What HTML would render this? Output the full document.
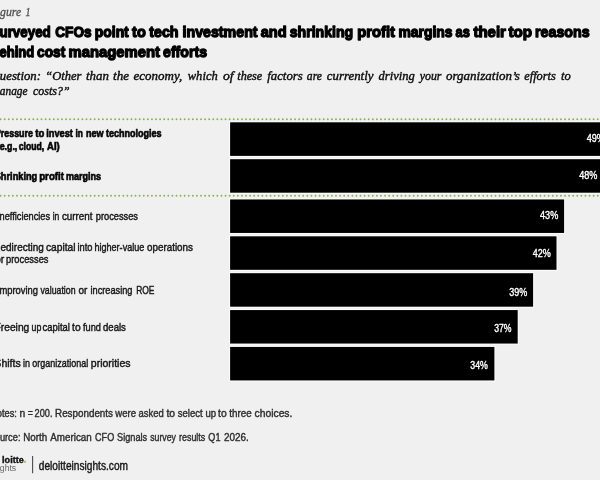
<!DOCTYPE html>
<html lang="en">
<head>
<meta charset="utf-8">
<title>Figure 1</title>
<style>
html,body{margin:0;padding:0;background:#f0f0f0;overflow:hidden}
svg{display:block;will-change:transform}
</style>
</head>
<body>
<svg width="600" height="480" viewBox="0 0 600 480">
<rect x="0" y="0" width="600" height="480" fill="#f0f0f0"/>
<defs><mask id="mk" maskUnits="userSpaceOnUse" x="0" y="0" width="600" height="480"><rect width="600" height="480" fill="#fff"/></mask><filter id="soft" filterUnits="userSpaceOnUse" x="-10" y="-10" width="620" height="500" color-interpolation-filters="sRGB"><feGaussianBlur stdDeviation="0.45"/></filter></defs>
<g mask="url(#mk)" filter="url(#soft)">
<text y="15.5" font-family='"Liberation Serif", serif' font-size="12.2" font-weight="normal" font-style="italic" fill="#505050" stroke="#505050" stroke-width="0.3" stroke-linejoin="round"><tspan x="-10.42" textLength="31.62" lengthAdjust="spacingAndGlyphs">Figure</tspan> <tspan x="25.39" textLength="5.02" lengthAdjust="spacingAndGlyphs">1</tspan></text>
<text y="36.8" font-family='"Liberation Sans", sans-serif' font-size="15.0" font-weight="bold" font-style="normal" fill="#000" stroke="#000" stroke-width="1.3" stroke-linejoin="round"><tspan x="-9.45" textLength="60.20" lengthAdjust="spacingAndGlyphs">Surveyed</tspan> <tspan x="55.25" textLength="36.30" lengthAdjust="spacingAndGlyphs">CFOs</tspan> <tspan x="94.85" textLength="33.90" lengthAdjust="spacingAndGlyphs">point</tspan> <tspan x="132.05" textLength="13.70" lengthAdjust="spacingAndGlyphs">to</tspan> <tspan x="149.25" textLength="29.30" lengthAdjust="spacingAndGlyphs">tech</tspan> <tspan x="182.55" textLength="75.00" lengthAdjust="spacingAndGlyphs">investment</tspan> <tspan x="260.65" textLength="25.90" lengthAdjust="spacingAndGlyphs">and</tspan> <tspan x="289.75" textLength="63.50" lengthAdjust="spacingAndGlyphs">shrinking</tspan> <tspan x="357.25" textLength="37.70" lengthAdjust="spacingAndGlyphs">profit</tspan> <tspan x="398.45" textLength="54.00" lengthAdjust="spacingAndGlyphs">margins</tspan> <tspan x="455.55" textLength="14.40" lengthAdjust="spacingAndGlyphs">as</tspan> <tspan x="473.45" textLength="32.50" lengthAdjust="spacingAndGlyphs">their</tspan> <tspan x="508.45" textLength="23.60" lengthAdjust="spacingAndGlyphs">top</tspan> <tspan x="535.05" textLength="54.50" lengthAdjust="spacingAndGlyphs">reasons</tspan></text>
<text y="56.6" font-family='"Liberation Sans", sans-serif' font-size="15.0" font-weight="bold" font-style="normal" fill="#000" stroke="#000" stroke-width="1.3" stroke-linejoin="round"><tspan x="-8.45" textLength="42.70" lengthAdjust="spacingAndGlyphs">behind</tspan> <tspan x="37.05" textLength="28.30" lengthAdjust="spacingAndGlyphs">cost</tspan> <tspan x="68.45" textLength="91.50" lengthAdjust="spacingAndGlyphs">management</tspan> <tspan x="163.05" textLength="44.00" lengthAdjust="spacingAndGlyphs">efforts</tspan></text>
<text y="80.2" font-family='"Liberation Serif", serif' font-size="13" font-weight="normal" font-style="italic" fill="#0c0c0c" stroke="#0c0c0c" stroke-width="0.42" stroke-linejoin="round"><tspan x="-9.35" textLength="50.30" lengthAdjust="spacingAndGlyphs">Question:</tspan> <tspan x="45.25" textLength="36.25" lengthAdjust="spacingAndGlyphs">“Other</tspan> <tspan x="86.00" textLength="23.00" lengthAdjust="spacingAndGlyphs">than</tspan> <tspan x="113.00" textLength="16.00" lengthAdjust="spacingAndGlyphs">the</tspan> <tspan x="133.50" textLength="48.75" lengthAdjust="spacingAndGlyphs">economy,</tspan> <tspan x="187.75" textLength="30.00" lengthAdjust="spacingAndGlyphs">which</tspan> <tspan x="223.06" textLength="10.63" lengthAdjust="spacingAndGlyphs">of</tspan> <tspan x="237.25" textLength="25.00" lengthAdjust="spacingAndGlyphs">these</tspan> <tspan x="267.25" textLength="35.50" lengthAdjust="spacingAndGlyphs">factors</tspan> <tspan x="306.83" textLength="15.09" lengthAdjust="spacingAndGlyphs">are</tspan> <tspan x="326.75" textLength="46.75" lengthAdjust="spacingAndGlyphs">currently</tspan> <tspan x="378.50" textLength="36.25" lengthAdjust="spacingAndGlyphs">driving</tspan> <tspan x="419.75" textLength="21.75" lengthAdjust="spacingAndGlyphs">your</tspan> <tspan x="446.00" textLength="73.75" lengthAdjust="spacingAndGlyphs">organization’s</tspan> <tspan x="524.25" textLength="31.50" lengthAdjust="spacingAndGlyphs">efforts</tspan> <tspan x="561.00" textLength="9.75" lengthAdjust="spacingAndGlyphs">to</tspan></text>
<text y="94.7" font-family='"Liberation Serif", serif' font-size="13" font-weight="normal" font-style="italic" fill="#0c0c0c" stroke="#0c0c0c" stroke-width="0.42" stroke-linejoin="round"><tspan x="-8.35" textLength="35.90" lengthAdjust="spacingAndGlyphs">manage</tspan> <tspan x="33.05" textLength="36.50" lengthAdjust="spacingAndGlyphs">costs?”</tspan></text>
<line x1="0.6" y1="119.2" x2="604" y2="119.2" stroke="#88b253" stroke-width="1.9" stroke-linecap="round" stroke-dasharray="0 4.09"/>
<line x1="0.6" y1="195.8" x2="604" y2="195.8" stroke="#88b253" stroke-width="1.9" stroke-linecap="round" stroke-dasharray="0 4.09"/>
<rect x="229.00" y="121.20" width="384.10" height="35.80" fill="#fbfbfb"/>
<rect x="229.00" y="158.10" width="384.10" height="35.70" fill="#fbfbfb"/>
<rect x="229.00" y="198.35" width="336.20" height="35.70" fill="#fbfbfb"/>
<rect x="229.00" y="235.22" width="328.60" height="35.70" fill="#fbfbfb"/>
<rect x="229.00" y="272.09" width="305.20" height="35.70" fill="#fbfbfb"/>
<rect x="229.00" y="308.96" width="289.80" height="35.70" fill="#fbfbfb"/>
<rect x="229.00" y="345.83" width="266.50" height="35.70" fill="#fbfbfb"/>
<rect x="230.10" y="122.30" width="381.90" height="33.60" fill="#000"/>
<rect x="230.10" y="159.20" width="381.90" height="33.50" fill="#000"/>
<rect x="230.10" y="199.45" width="334.00" height="33.50" fill="#000"/>
<rect x="230.10" y="236.32" width="326.40" height="33.50" fill="#000"/>
<rect x="230.10" y="273.19" width="303.00" height="33.50" fill="#000"/>
<rect x="230.10" y="310.06" width="287.60" height="33.50" fill="#000"/>
<rect x="230.10" y="346.93" width="264.30" height="33.50" fill="#000"/>
<text y="141.7" font-family='"Liberation Sans", sans-serif' font-size="11" font-weight="normal" font-style="normal" fill="#fff" stroke="#fff" stroke-width="0.4" stroke-linejoin="round"><tspan x="586.65" textLength="18.20" lengthAdjust="spacingAndGlyphs">49%</tspan></text>
<text y="179.1" font-family='"Liberation Sans", sans-serif' font-size="11" font-weight="normal" font-style="normal" fill="#fff" stroke="#fff" stroke-width="0.4" stroke-linejoin="round"><tspan x="579.15" textLength="18.20" lengthAdjust="spacingAndGlyphs">48%</tspan></text>
<text y="219.1" font-family='"Liberation Sans", sans-serif' font-size="11" font-weight="normal" font-style="normal" fill="#fff" stroke="#fff" stroke-width="0.4" stroke-linejoin="round"><tspan x="540.05" textLength="18.20" lengthAdjust="spacingAndGlyphs">43%</tspan></text>
<text y="257.1" font-family='"Liberation Sans", sans-serif' font-size="11" font-weight="normal" font-style="normal" fill="#fff" stroke="#fff" stroke-width="0.4" stroke-linejoin="round"><tspan x="532.75" textLength="18.00" lengthAdjust="spacingAndGlyphs">42%</tspan></text>
<text y="295.5" font-family='"Liberation Sans", sans-serif' font-size="11" font-weight="normal" font-style="normal" fill="#fff" stroke="#fff" stroke-width="0.4" stroke-linejoin="round"><tspan x="509.25" textLength="18.00" lengthAdjust="spacingAndGlyphs">39%</tspan></text>
<text y="332.4" font-family='"Liberation Sans", sans-serif' font-size="11" font-weight="normal" font-style="normal" fill="#fff" stroke="#fff" stroke-width="0.4" stroke-linejoin="round"><tspan x="494.25" textLength="17.30" lengthAdjust="spacingAndGlyphs">37%</tspan></text>
<text y="369.3" font-family='"Liberation Sans", sans-serif' font-size="11" font-weight="normal" font-style="normal" fill="#fff" stroke="#fff" stroke-width="0.4" stroke-linejoin="round"><tspan x="470.25" textLength="17.60" lengthAdjust="spacingAndGlyphs">34%</tspan></text>
<text y="137" font-family='"Liberation Sans", sans-serif' font-size="10.8" font-weight="bold" font-style="normal" fill="#050505" stroke="#050505" stroke-width="0.65" stroke-linejoin="round"><tspan x="-5.10" textLength="38.00" lengthAdjust="spacingAndGlyphs">Pressure</tspan> <tspan x="35.20" textLength="9.05" lengthAdjust="spacingAndGlyphs">to</tspan> <tspan x="46.20" textLength="26.70" lengthAdjust="spacingAndGlyphs">invest</tspan> <tspan x="75.50" textLength="7.40" lengthAdjust="spacingAndGlyphs">in</tspan> <tspan x="85.90" textLength="17.60" lengthAdjust="spacingAndGlyphs">new</tspan> <tspan x="105.90" textLength="55.60" lengthAdjust="spacingAndGlyphs">technologies</tspan></text>
<text y="149.8" font-family='"Liberation Sans", sans-serif' font-size="10.8" font-weight="bold" font-style="normal" fill="#050505" stroke="#050505" stroke-width="0.65" stroke-linejoin="round"><tspan x="-3.30" textLength="20.60" lengthAdjust="spacingAndGlyphs">(e.g.,</tspan> <tspan x="18.75" textLength="25.50" lengthAdjust="spacingAndGlyphs">cloud,</tspan> <tspan x="47.10" textLength="12.71" lengthAdjust="spacingAndGlyphs">AI)</tspan></text>
<text y="179.5" font-family='"Liberation Sans", sans-serif' font-size="10.8" font-weight="bold" font-style="normal" fill="#050505" stroke="#050505" stroke-width="0.65" stroke-linejoin="round"><tspan x="-5.30" textLength="42.55" lengthAdjust="spacingAndGlyphs">Shrinking</tspan> <tspan x="39.20" textLength="24.80" lengthAdjust="spacingAndGlyphs">profit</tspan> <tspan x="66.10" textLength="35.00" lengthAdjust="spacingAndGlyphs">margins</tspan></text>
<text y="220.4" font-family='"Liberation Sans", sans-serif' font-size="10.6" font-weight="normal" font-style="normal" fill="#161616" stroke="#161616" stroke-width="0.42" stroke-linejoin="round"><tspan x="-3.00" textLength="53.10" lengthAdjust="spacingAndGlyphs">Inefficiencies</tspan> <tspan x="52.74" textLength="6.62" lengthAdjust="spacingAndGlyphs">in</tspan> <tspan x="61.90" textLength="30.60" lengthAdjust="spacingAndGlyphs">current</tspan> <tspan x="95.75" textLength="42.25" lengthAdjust="spacingAndGlyphs">processes</tspan></text>
<text y="250.6" font-family='"Liberation Sans", sans-serif' font-size="10.6" font-weight="normal" font-style="normal" fill="#161616" stroke="#161616" stroke-width="0.42" stroke-linejoin="round"><tspan x="-6.70" textLength="50.50" lengthAdjust="spacingAndGlyphs">Redirecting</tspan> <tspan x="45.90" textLength="29.60" lengthAdjust="spacingAndGlyphs">capital</tspan> <tspan x="77.50" textLength="15.00" lengthAdjust="spacingAndGlyphs">into</tspan> <tspan x="94.44" textLength="49.87" lengthAdjust="spacingAndGlyphs">higher-value</tspan> <tspan x="147.00" textLength="46.00" lengthAdjust="spacingAndGlyphs">operations</tspan></text>
<text y="263.2" font-family='"Liberation Sans", sans-serif' font-size="10.6" font-weight="normal" font-style="normal" fill="#161616" stroke="#161616" stroke-width="0.42" stroke-linejoin="round"><tspan x="-5.00" textLength="9.30" lengthAdjust="spacingAndGlyphs">or</tspan> <tspan x="6.10" textLength="42.40" lengthAdjust="spacingAndGlyphs">processes</tspan></text>
<text y="293.7" font-family='"Liberation Sans", sans-serif' font-size="10.6" font-weight="normal" font-style="normal" fill="#161616" stroke="#161616" stroke-width="0.42" stroke-linejoin="round"><tspan x="-3.20" textLength="41.20" lengthAdjust="spacingAndGlyphs">Improving</tspan> <tspan x="40.50" textLength="35.00" lengthAdjust="spacingAndGlyphs">valuation</tspan> <tspan x="78.45" textLength="8.85" lengthAdjust="spacingAndGlyphs">or</tspan> <tspan x="90.50" textLength="42.00" lengthAdjust="spacingAndGlyphs">increasing</tspan> <tspan x="136.16" textLength="18.37" lengthAdjust="spacingAndGlyphs">ROE</tspan></text>
<text y="330.7" font-family='"Liberation Sans", sans-serif' font-size="10.6" font-weight="normal" font-style="normal" fill="#161616" stroke="#161616" stroke-width="0.42" stroke-linejoin="round"><tspan x="-5.53" textLength="34.83" lengthAdjust="spacingAndGlyphs">Freeing</tspan> <tspan x="31.58" textLength="9.73" lengthAdjust="spacingAndGlyphs">up</tspan> <tspan x="42.60" textLength="27.30" lengthAdjust="spacingAndGlyphs">capital</tspan> <tspan x="72.07" textLength="8.57" lengthAdjust="spacingAndGlyphs">to</tspan> <tspan x="83.00" textLength="17.90" lengthAdjust="spacingAndGlyphs">fund</tspan> <tspan x="103.00" textLength="22.90" lengthAdjust="spacingAndGlyphs">deals</tspan></text>
<text y="366.5" font-family='"Liberation Sans", sans-serif' font-size="10.6" font-weight="normal" font-style="normal" fill="#161616" stroke="#161616" stroke-width="0.42" stroke-linejoin="round"><tspan x="-5.64" textLength="26.34" lengthAdjust="spacingAndGlyphs">Shifts</tspan> <tspan x="23.11" textLength="6.98" lengthAdjust="spacingAndGlyphs">in</tspan> <tspan x="32.20" textLength="56.00" lengthAdjust="spacingAndGlyphs">organizational</tspan> <tspan x="90.80" textLength="39.70" lengthAdjust="spacingAndGlyphs">priorities</tspan></text>
<text y="417" font-family='"Liberation Sans", sans-serif' font-size="10.4" font-weight="normal" font-style="normal" fill="#2e2e2e" stroke="#2e2e2e" stroke-width="0.4" stroke-linejoin="round"><tspan x="-9.95" textLength="26.90" lengthAdjust="spacingAndGlyphs">Notes:</tspan> <tspan x="19.39" textLength="5.72" lengthAdjust="spacingAndGlyphs">n</tspan> <tspan x="27.69" textLength="5.12" lengthAdjust="spacingAndGlyphs">=</tspan> <tspan x="34.55" textLength="17.90" lengthAdjust="spacingAndGlyphs">200.</tspan> <tspan x="55.05" textLength="57.90" lengthAdjust="spacingAndGlyphs">Respondents</tspan> <tspan x="115.30" textLength="20.65" lengthAdjust="spacingAndGlyphs">were</tspan> <tspan x="138.55" textLength="25.30" lengthAdjust="spacingAndGlyphs">asked</tspan> <tspan x="166.51" textLength="8.58" lengthAdjust="spacingAndGlyphs">to</tspan> <tspan x="177.75" textLength="24.90" lengthAdjust="spacingAndGlyphs">select</tspan> <tspan x="205.45" textLength="10.60" lengthAdjust="spacingAndGlyphs">up</tspan> <tspan x="218.06" textLength="8.58" lengthAdjust="spacingAndGlyphs">to</tspan> <tspan x="229.25" textLength="22.40" lengthAdjust="spacingAndGlyphs">three</tspan> <tspan x="254.62" textLength="37.76" lengthAdjust="spacingAndGlyphs">choices.</tspan></text>
<text y="440.7" font-family='"Liberation Sans", sans-serif' font-size="10.4" font-weight="normal" font-style="normal" fill="#2e2e2e" stroke="#2e2e2e" stroke-width="0.4" stroke-linejoin="round"><tspan x="-11.45" textLength="31.90" lengthAdjust="spacingAndGlyphs">Source:</tspan> <tspan x="23.30" textLength="23.90" lengthAdjust="spacingAndGlyphs">North</tspan> <tspan x="50.30" textLength="41.40" lengthAdjust="spacingAndGlyphs">American</tspan> <tspan x="95.05" textLength="19.15" lengthAdjust="spacingAndGlyphs">CFO</tspan> <tspan x="117.05" textLength="30.10" lengthAdjust="spacingAndGlyphs">Signals</tspan> <tspan x="150.25" textLength="25.70" lengthAdjust="spacingAndGlyphs">survey</tspan> <tspan x="179.05" textLength="26.20" lengthAdjust="spacingAndGlyphs">results</tspan> <tspan x="208.35" textLength="12.10" lengthAdjust="spacingAndGlyphs">Q1</tspan> <tspan x="224.00" textLength="24.80" lengthAdjust="spacingAndGlyphs">2026.</tspan></text>
<text y="462.6" font-family='"Liberation Sans", sans-serif' font-size="8.8" font-weight="bold" fill="#0c0c0c" stroke="#0c0c0c" stroke-width="0.35"><tspan x="-11.5">De</tspan><tspan x="2.1" textLength="21.6" lengthAdjust="spacingAndGlyphs">loitte</tspan></text>
<circle cx="25" cy="461.7" r="0.95" fill="#86bc25"/>
<text y="471.3" font-family='"Liberation Sans", sans-serif' font-size="9.7" fill="#666"><tspan x="-14.5">Insi</tspan><tspan x="-0.2" textLength="16.4" lengthAdjust="spacingAndGlyphs">ghts</tspan></text>
<line x1="32.6" y1="456" x2="32.6" y2="473.2" stroke="#4a4a4a" stroke-width="1.1"/>
<text y="469.6" font-family='"Liberation Sans", sans-serif' font-size="12.2" font-weight="normal" font-style="normal" fill="#161616" stroke="#161616" stroke-width="0.42" stroke-linejoin="round"><tspan x="38.80" textLength="89.20" lengthAdjust="spacingAndGlyphs">deloitteinsights.com</tspan></text>
</g>
</svg>
</body>
</html>
